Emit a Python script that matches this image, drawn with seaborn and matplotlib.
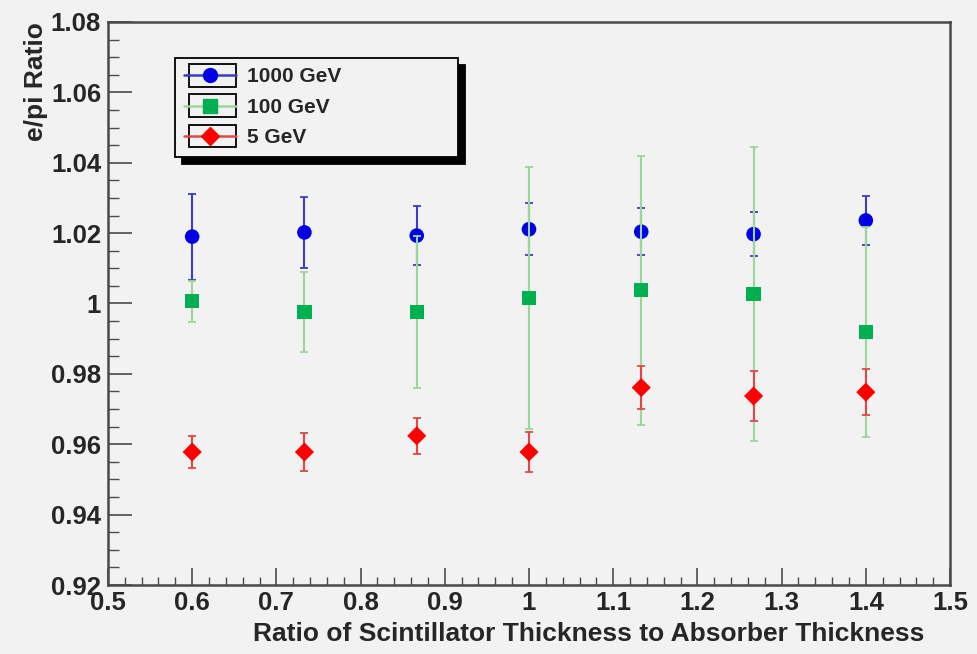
import matplotlib
matplotlib.use('Agg')
import matplotlib.pyplot as plt
import seaborn as sns
import pandas as pd
import numpy as np
from matplotlib.lines import Line2D
from matplotlib.patches import Rectangle
from matplotlib.legend_handler import HandlerLine2D
from matplotlib.ticker import MultipleLocator, FormatStrFormatter

# thickness ratio (x) and e/pi ratios per beam energy
ratio = [0.6, 0.7333, 0.8667, 1.0, 1.1333, 1.2667, 1.4]
epi_1000 = [1.0190, 1.0202, 1.0193, 1.0211, 1.0204, 1.0197, 1.0236]
err_1000 = [0.0122, 0.0101, 0.0085, 0.0074, 0.0067, 0.0062, 0.0070]
epi_100 = [1.0006, 0.9976, 0.9976, 1.0016, 1.0038, 1.0027, 0.9919]
err_100 = [0.0058, 0.0113, 0.0217, 0.0373, 0.0382, 0.0418, 0.0297]
epi_5 = [0.9578, 0.9578, 0.9624, 0.9578, 0.9761, 0.9737, 0.9748]
err_5 = [0.0045, 0.0053, 0.0052, 0.0056, 0.0060, 0.0070, 0.0065]
energies = ['1000 GeV', '100 GeV', '5 GeV']

rows = []
for lab, vals, errs in zip(energies, [epi_1000, epi_100, epi_5], [err_1000, err_100, err_5]):
    for x, v, e in zip(ratio, vals, errs):
        rows.append({'Ratio': x, 'EPi': v, 'Err': e, 'Energy': lab})
df = pd.DataFrame(rows)

sns.set_style('white', {'axes.facecolor': '#f2f2f2', 'figure.facecolor': '#f2f2f2'})
plt.rcParams['font.family'] = ['Liberation Sans', 'DejaVu Sans']
plt.rcParams['font.weight'] = 'bold'

style = {
    '1000 GeV': dict(marker='o', mc='#0000e6', ec='#3c3cc8', s=110),
    '100 GeV': dict(marker='s', mc='#00b050', ec='#9ad89a', s=105),
    '5 GeV': dict(marker='D', mc='#ff0000', ec='#e04848', s=95),
}

fig = plt.figure(figsize=(9.77, 6.54), dpi=100)
ax = fig.add_axes([0.1105, 0.1055, 0.8619, 0.8609])

z = 2
for lab in energies:
    sub = df[df['Energy'] == lab]
    st = style[lab]
    ax.errorbar(sub['Ratio'], sub['EPi'], yerr=sub['Err'], fmt='none',
                ecolor=st['ec'], elinewidth=1.5, capsize=3, capthick=1.3, zorder=z)
    sns.scatterplot(data=sub, x='Ratio', y='EPi', marker=st['marker'], color=st['mc'],
                    s=st['s'], edgecolor='none', linewidth=0, ax=ax, zorder=z + 1)
    z += 2

ax.set_xlim(0.5, 1.5)
ax.set_ylim(0.92, 1.08)
ax.xaxis.set_major_locator(MultipleLocator(0.1))
ax.xaxis.set_minor_locator(MultipleLocator(0.02))
ax.yaxis.set_major_locator(MultipleLocator(0.02))
ax.yaxis.set_minor_locator(MultipleLocator(0.005))
ax.xaxis.set_major_formatter(FormatStrFormatter('%g'))
ax.yaxis.set_major_formatter(FormatStrFormatter('%g'))
ax.tick_params(bottom=True, left=True, top=False, right=False, which='both')
ax.tick_params(axis='x', which='major', direction='in', length=12, width=1.2,
               color='#4a4a4a', labelsize=18.5, pad=4)
ax.tick_params(axis='x', which='minor', direction='in', length=6, width=1.0, color='#4a4a4a')
ax.tick_params(axis='y', which='major', direction='in', length=17, width=1.2,
               color='#4a4a4a', labelsize=18.5, pad=5)
ax.tick_params(axis='y', which='minor', direction='in', length=8, width=1.0, color='#4a4a4a')
for lbl in ax.get_xticklabels() + ax.get_yticklabels():
    lbl.set_fontweight('bold')
for sp in ax.spines.values():
    sp.set_color('#4a4a4a')
    sp.set_linewidth(1.8)

ax.set_xlabel('Ratio of Scintillator Thickness to Absorber Thickness',
              fontsize=19, fontweight='bold', ha='right', va='center')
ax.xaxis.set_label_coords(0.970, -0.087)
ax.set_ylabel('e/pi Ratio', fontsize=19, fontweight='bold', ha='right', va='center')
ax.yaxis.set_label_coords(-0.086, 1.0)


class BoxedHandler(HandlerLine2D):
    def create_artists(self, legend, orig_handle, xdescent, ydescent, width, height, fontsize, trans):
        artists = super().create_artists(legend, orig_handle, xdescent, ydescent,
                                         width, height, fontsize, trans)
        box = Rectangle((-xdescent + 3, -ydescent - 3), width - 3, height + 6, fill=False,
                        edgecolor='black', linewidth=1.3, transform=trans)
        return [box] + list(artists)


handles = [Line2D([], [], color=style[lab]['ec'], marker=style[lab]['marker'],
                  markerfacecolor=style[lab]['mc'], markeredgecolor=style[lab]['mc'],
                  markersize=10 if lab != '5 GeV' else 9, linewidth=1.8)
           for lab in energies]
leg = ax.legend(handles, energies, loc='upper left',
                bbox_to_anchor=(0.0796, 0.764, 0.336, 0.172), mode='expand',
                frameon=True, fancybox=False, shadow={'color': 'black', 'alpha': 1, 'ox': 5, 'oy': -5},
                edgecolor='black', facecolor='#f2f2f2', framealpha=1,
                prop={'weight': 'bold', 'size': 15}, handlelength=2.5, handletextpad=0.5,
                labelspacing=0.55, borderpad=0.45, borderaxespad=0,
                handler_map={Line2D: BoxedHandler()})
leg.get_frame().set_linewidth(1.3)

plt.savefig('out.png', dpi=100, facecolor=fig.get_facecolor())
plt.close()
